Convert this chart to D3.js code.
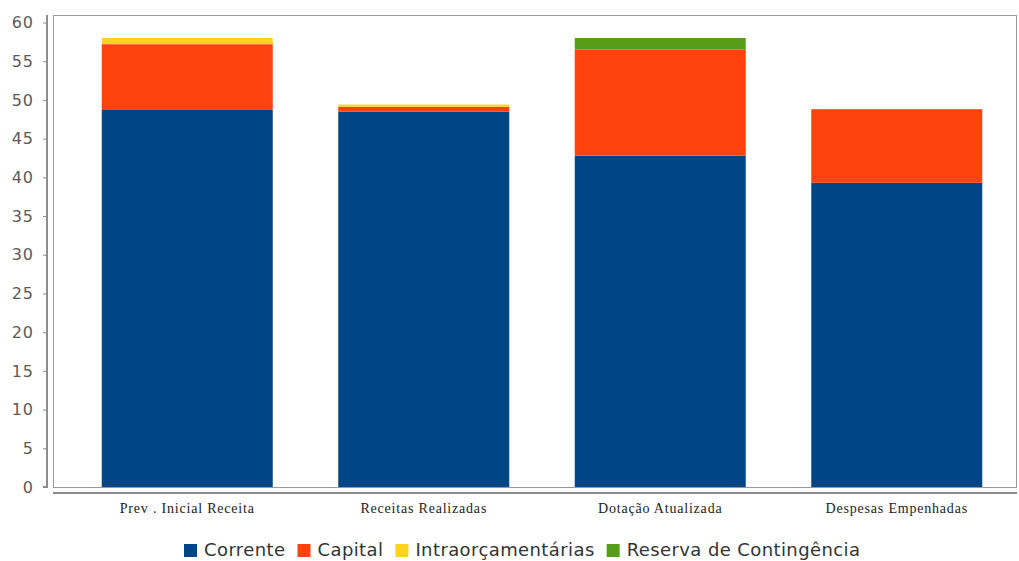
<!DOCTYPE html>
<html>
<head>
<meta charset="utf-8">
<script src="https://cdn.jsdelivr.net/npm/d3@7"></script>
<style>
  html, body { margin: 0; padding: 0; background: #fff; }
  svg { display: block; }
</style>
</head>
<body>
<svg id="chart" width="1019" height="561"></svg>
<script>
// Budget execution by category (millions)
const categories = ["Prev . Inicial Receita", "Receitas Realizadas", "Dotação Atualizada", "Despesas Empenhadas"];
const seriesNames = ["Corrente", "Capital", "Intraorçamentárias", "Reserva de Contingência"];
const corrente = [48.7, 48.5, 42.8, 39.3];
const capital = [8.5, 0.6, 13.7, 9.5];
const intraorcamentarias = [0.8, 0.3, 0, 0];
const reservaContingencia = [0, 0, 1.5, 0];
const yTicks = [0, 5, 10, 15, 20, 25, 30, 35, 40, 45, 50, 55, 60];
const colors = ["#004586", "#ff420e", "#ffd320", "#579d1c"];

const rows = categories.map((c, i) => ({
  category: c,
  "Corrente": corrente[i],
  "Capital": capital[i],
  "Intraorçamentárias": intraorcamentarias[i],
  "Reserva de Contingência": reservaContingencia[i]
}));

const svg = d3.select("#chart");
const frame = { left: 53, right: 1016, top: 15, bottom: 487 };

const y = d3.scaleLinear().domain([0, 60]).range([487, 22.5]);
const x = d3.scaleBand().domain(categories).range([69, 1015]).paddingInner(0.277).paddingOuter(0.1385);
const color = d3.scaleOrdinal().domain(seriesNames).range(colors);

const stacked = d3.stack().keys(seriesNames)(rows);

// plot frame
svg.append("rect")
  .attr("x", frame.left + 0.5).attr("y", frame.top + 0.5)
  .attr("width", frame.right - frame.left).attr("height", frame.bottom - frame.top)
  .attr("fill", "none").attr("stroke", "#9a9a9a").attr("stroke-width", 1);

// stacked bars
svg.append("g").selectAll("g")
  .data(stacked)
  .join("g")
  .attr("fill", d => color(d.key))
  .selectAll("rect")
  .data(d => d)
  .join("rect")
  .attr("x", d => x(d.data.category))
  .attr("width", x.bandwidth())
  .attr("y", d => y(d[1]))
  .attr("height", d => Math.max(0, y(d[0]) - y(d[1])));

// y axis
const yAxis = d3.axisLeft(y).tickValues(yTicks).tickSize(4).tickPadding(9).tickFormat(d3.format("d"));
const gy = svg.append("g").attr("transform", "translate(47,0)").call(yAxis);
gy.select(".domain").attr("stroke", "#8c8c8c").attr("stroke-width", 2)
  .attr("d", `M-4,${y(0)}H0V${frame.top}`);
gy.selectAll(".tick line").attr("stroke", "#8c8c8c").attr("stroke-width", 1);
gy.selectAll(".tick text")
  .attr("fill", "#5a5a5a")
  .style("font-family", "'DejaVu Sans', sans-serif")
  .style("font-size", "16px")
  .style("letter-spacing", "1px");

// x axis
const xAxis = d3.axisBottom(x).tickSize(0).tickPadding(10);
const gx = svg.append("g").attr("transform", "translate(0,493)").call(xAxis);
gx.select(".domain").attr("stroke", "#8c8c8c").attr("stroke-width", 2)
  .attr("d", `M${frame.left},0H${frame.right + 1}`);
gx.selectAll(".tick text")
  .attr("fill", "#222")
  .style("font-family", "'Liberation Serif', 'DejaVu Serif', serif")
  .style("font-size", "14px")
  .style("letter-spacing", "0.8px");

// legend
const legendItems = seriesNames.map((name, i) => ({ name, color: colors[i] }));
const legend = svg.append("g").attr("transform", "translate(0,550)");
let cx = 184;
legendItems.forEach(item => {
  const g = legend.append("g").attr("transform", `translate(${cx},0)`);
  g.append("rect").attr("x", 0).attr("y", -6).attr("width", 13).attr("height", 13).attr("fill", item.color);
  const t = g.append("text")
    .attr("x", 20).attr("y", 0).attr("dy", "0.35em")
    .attr("fill", "#333")
    .style("font-family", "'DejaVu Sans', sans-serif")
    .style("font-size", "18px")
    .style("letter-spacing", "0.4px")
    .text(item.name);
  cx += 20 + t.node().getComputedTextLength() + 12;
});
</script>
</body>
</html>
